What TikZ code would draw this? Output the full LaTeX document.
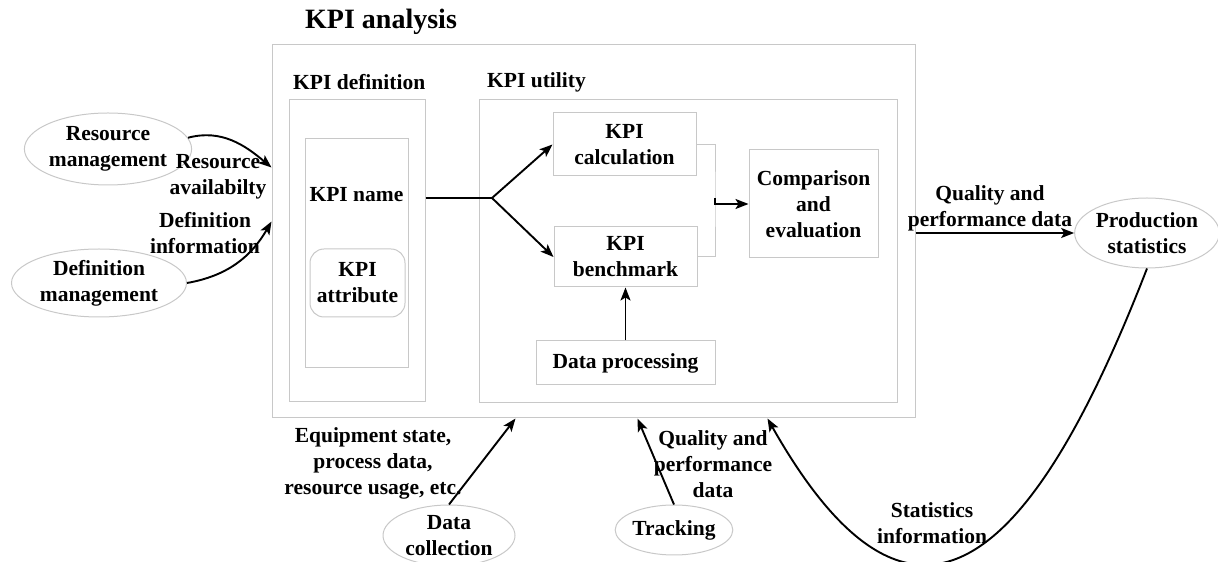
\documentclass[tikz,border=0pt]{standalone}
\usepackage{fontspec}
\setmainfont{Liberation Serif}
\RequirePackage{xcolor}
\definecolor{boxgray}{RGB}{200,200,200}
\usetikzlibrary{calc}
\usetikzlibrary{positioning}
\usetikzlibrary{shapes.geometric,arrows.meta}

\begin{document}
\begin{tikzpicture}[x=1pt,y=1pt,
  lbl/.style={font=\fontsize{21.5}{26}\selectfont\bfseries, align=center, inner sep=0pt},
  frame/.style={draw=boxgray, line width=1pt, inner sep=0pt},
  blk/.style={frame, lbl},
  oval/.style={ellipse, draw=boxgray, line width=1pt, inner sep=0pt, lbl},
  flow/.style={line width=1.9pt, -{Stealth[length=13pt,width=10pt,inset=3pt]}}]
  \useasboundingbox (0,0) rectangle (1218,562);

  % containers
  \node [frame, minimum width=643, minimum height=373] (kpia) at (593.5,330.5) {};
  \node [lbl, font=\fontsize{28}{32}\selectfont\bfseries, anchor=west] (kpiat) at (305,540) {KPI analysis};
  \node [frame, minimum width=136, minimum height=302] (kdef) at (357,311) {};
  \node [lbl, anchor=west] (kdeft) at (293,480) {KPI definition};
  \node [frame, minimum width=103, minimum height=229] (kname) at (356.5,308.5) {};
  \node [lbl] (knamet) at (356.5,367) {KPI name};
  \node [blk, rounded corners=14pt, minimum width=95, minimum height=68] (kattr) at (357.5,279) {KPI\\attribute};
  \node [frame, minimum width=418, minimum height=303] (kutil) at (688,310.5) {};
  \node [lbl, anchor=west] (kutilt) at (487,480) {KPI utility};

  % blocks
  \node [blk, minimum width=143, minimum height=63] (kcalc) at (624.5,417.5) {KPI\\calculation};
  \node [blk, minimum width=143, minimum height=60] (kbench) at (625.5,305) {KPI\\benchmark};
  \node [blk, minimum width=179, minimum height=44] (dproc) at (625.5,199) {Data processing};
  \node [blk, minimum width=129, minimum height=108] (cmp) at (813.5,358) {Comparison\\and\\evaluation};

  % outside
  \node [oval, minimum width=149, minimum height=72] (resm) at (108,413) {Resource\\management};
  \node [oval, minimum width=175, minimum height=68] (defm) at (99,279) {Definition\\management};
  \node [oval, minimum width=143, minimum height=70] (prods) at (1147,329) {Production\\statistics};
  \node [oval, minimum width=132, minimum height=61] (dcol) at (449,26.5) {Data\\collection};
  \node [oval, minimum width=106, minimum height=50] (track) at (674,32) {Tracking};

  % labels
  \node [lbl] (resav) at (218,385) {Resource\\availabilty};
  \node [lbl] (definf) at (205,328.5) {Definition\\information};
  \node [lbl] (qpd) at (990,354) {Quality and\\performance data};
  \node [lbl] (eqst) at (373,99) {Equipment state,\\process data,\\resource usage, etc.};
  \node [lbl] (qpdt) at (713,98) {Quality and\\performance\\data};
  \node [lbl] (statinf) at (932,39) {Statistics\\information};

  % connectors
  \coordinate (split) at (492,364);
  \coordinate (brk) at (715,364);
  \draw [line width=1.9pt] (kdef.east |- split) -- (split);
  \draw [flow] (split) -- (kcalc.west);
  \draw [flow] (split) -- (kbench.west);
  \draw [draw=boxgray, line width=1pt] (kcalc.east) -| (brk) |- (kbench.east);
  \draw [flow] (brk) |- (cmp.west);
  \draw [flow] (dproc.north) -- (kbench.south);

  \draw [flow] (resm.8) to[out=15, in=140] ($(kpia.north west)+(0,-123)$);
  \draw [flow] (defm.east) to[out=10, in=240] ($(kpia.north west)+(0,-177)$);
  \draw [flow] (kpia.east |- prods.west) -- (prods.west);
  \draw [flow] (dcol.north) -- ($(kpia.south west)+(244,0)$);
  \draw [flow] (track.north) -- ($(kpia.south west)+(366,0)$);
  \draw [flow] (prods.south) .. controls (1030,-8) and (912,-112) .. ($(kpia.south west)+(496,0)$);
\end{tikzpicture}
\end{document}
